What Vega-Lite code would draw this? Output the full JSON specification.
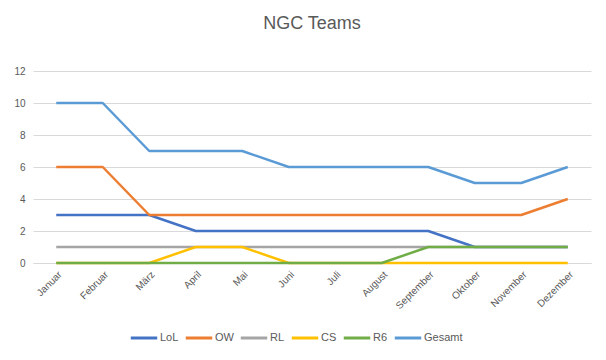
{
  "$schema": "https://vega.github.io/schema/vega-lite/v6.json",
  "width": 558,
  "height": 192,
  "autosize": {"type": "none"},
  "padding": {"left": 33, "top": 71, "right": 15, "bottom": 97},
  "background": "white",
  "title": {"text": "NGC Teams", "fontSize": 18, "font": "Liberation Sans", "fontWeight": "normal", "color": "#595959", "offset": 33, "anchor": "middle"},
  "config": {
    "view": {"stroke": null},
    "font": "Liberation Sans",
    "axis": {"labelColor": "#595959", "labelFontSize": 10, "ticks": false, "gridColor": "#D9D9D9", "domainColor": "#D9D9D9", "title": null},
    "legend": {"labelColor": "#595959", "labelFontSize": 11}
  },
  "data": {"values": [
    {"Nr": 1, "Monat": "Januar", "Team": "LoL", "Wert": 3},
    {"Nr": 2, "Monat": "Februar", "Team": "LoL", "Wert": 3},
    {"Nr": 3, "Monat": "März", "Team": "LoL", "Wert": 3},
    {"Nr": 4, "Monat": "April", "Team": "LoL", "Wert": 2},
    {"Nr": 5, "Monat": "Mai", "Team": "LoL", "Wert": 2},
    {"Nr": 6, "Monat": "Juni", "Team": "LoL", "Wert": 2},
    {"Nr": 7, "Monat": "Juli", "Team": "LoL", "Wert": 2},
    {"Nr": 8, "Monat": "August", "Team": "LoL", "Wert": 2},
    {"Nr": 9, "Monat": "September", "Team": "LoL", "Wert": 2},
    {"Nr": 10, "Monat": "Oktober", "Team": "LoL", "Wert": 1},
    {"Nr": 11, "Monat": "November", "Team": "LoL", "Wert": 1},
    {"Nr": 12, "Monat": "Dezember", "Team": "LoL", "Wert": 1},
    {"Nr": 1, "Monat": "Januar", "Team": "OW", "Wert": 6},
    {"Nr": 2, "Monat": "Februar", "Team": "OW", "Wert": 6},
    {"Nr": 3, "Monat": "März", "Team": "OW", "Wert": 3},
    {"Nr": 4, "Monat": "April", "Team": "OW", "Wert": 3},
    {"Nr": 5, "Monat": "Mai", "Team": "OW", "Wert": 3},
    {"Nr": 6, "Monat": "Juni", "Team": "OW", "Wert": 3},
    {"Nr": 7, "Monat": "Juli", "Team": "OW", "Wert": 3},
    {"Nr": 8, "Monat": "August", "Team": "OW", "Wert": 3},
    {"Nr": 9, "Monat": "September", "Team": "OW", "Wert": 3},
    {"Nr": 10, "Monat": "Oktober", "Team": "OW", "Wert": 3},
    {"Nr": 11, "Monat": "November", "Team": "OW", "Wert": 3},
    {"Nr": 12, "Monat": "Dezember", "Team": "OW", "Wert": 4},
    {"Nr": 1, "Monat": "Januar", "Team": "RL", "Wert": 1},
    {"Nr": 2, "Monat": "Februar", "Team": "RL", "Wert": 1},
    {"Nr": 3, "Monat": "März", "Team": "RL", "Wert": 1},
    {"Nr": 4, "Monat": "April", "Team": "RL", "Wert": 1},
    {"Nr": 5, "Monat": "Mai", "Team": "RL", "Wert": 1},
    {"Nr": 6, "Monat": "Juni", "Team": "RL", "Wert": 1},
    {"Nr": 7, "Monat": "Juli", "Team": "RL", "Wert": 1},
    {"Nr": 8, "Monat": "August", "Team": "RL", "Wert": 1},
    {"Nr": 9, "Monat": "September", "Team": "RL", "Wert": 1},
    {"Nr": 10, "Monat": "Oktober", "Team": "RL", "Wert": 1},
    {"Nr": 11, "Monat": "November", "Team": "RL", "Wert": 1},
    {"Nr": 12, "Monat": "Dezember", "Team": "RL", "Wert": 1},
    {"Nr": 1, "Monat": "Januar", "Team": "CS", "Wert": 0},
    {"Nr": 2, "Monat": "Februar", "Team": "CS", "Wert": 0},
    {"Nr": 3, "Monat": "März", "Team": "CS", "Wert": 0},
    {"Nr": 4, "Monat": "April", "Team": "CS", "Wert": 1},
    {"Nr": 5, "Monat": "Mai", "Team": "CS", "Wert": 1},
    {"Nr": 6, "Monat": "Juni", "Team": "CS", "Wert": 0},
    {"Nr": 7, "Monat": "Juli", "Team": "CS", "Wert": 0},
    {"Nr": 8, "Monat": "August", "Team": "CS", "Wert": 0},
    {"Nr": 9, "Monat": "September", "Team": "CS", "Wert": 0},
    {"Nr": 10, "Monat": "Oktober", "Team": "CS", "Wert": 0},
    {"Nr": 11, "Monat": "November", "Team": "CS", "Wert": 0},
    {"Nr": 12, "Monat": "Dezember", "Team": "CS", "Wert": 0},
    {"Nr": 1, "Monat": "Januar", "Team": "R6", "Wert": 0},
    {"Nr": 2, "Monat": "Februar", "Team": "R6", "Wert": 0},
    {"Nr": 3, "Monat": "März", "Team": "R6", "Wert": 0},
    {"Nr": 4, "Monat": "April", "Team": "R6", "Wert": 0},
    {"Nr": 5, "Monat": "Mai", "Team": "R6", "Wert": 0},
    {"Nr": 6, "Monat": "Juni", "Team": "R6", "Wert": 0},
    {"Nr": 7, "Monat": "Juli", "Team": "R6", "Wert": 0},
    {"Nr": 8, "Monat": "August", "Team": "R6", "Wert": 0},
    {"Nr": 9, "Monat": "September", "Team": "R6", "Wert": 1},
    {"Nr": 10, "Monat": "Oktober", "Team": "R6", "Wert": 1},
    {"Nr": 11, "Monat": "November", "Team": "R6", "Wert": 1},
    {"Nr": 12, "Monat": "Dezember", "Team": "R6", "Wert": 1},
    {"Nr": 1, "Monat": "Januar", "Team": "Gesamt", "Wert": 10},
    {"Nr": 2, "Monat": "Februar", "Team": "Gesamt", "Wert": 10},
    {"Nr": 3, "Monat": "März", "Team": "Gesamt", "Wert": 7},
    {"Nr": 4, "Monat": "April", "Team": "Gesamt", "Wert": 7},
    {"Nr": 5, "Monat": "Mai", "Team": "Gesamt", "Wert": 7},
    {"Nr": 6, "Monat": "Juni", "Team": "Gesamt", "Wert": 6},
    {"Nr": 7, "Monat": "Juli", "Team": "Gesamt", "Wert": 6},
    {"Nr": 8, "Monat": "August", "Team": "Gesamt", "Wert": 6},
    {"Nr": 9, "Monat": "September", "Team": "Gesamt", "Wert": 6},
    {"Nr": 10, "Monat": "Oktober", "Team": "Gesamt", "Wert": 5},
    {"Nr": 11, "Monat": "November", "Team": "Gesamt", "Wert": 5},
    {"Nr": 12, "Monat": "Dezember", "Team": "Gesamt", "Wert": 6}
  ]},
  "mark": {"type": "line", "strokeWidth": 2.5, "strokeJoin": "round"},
  "encoding": {
    "x": {"field": "Monat", "type": "ordinal",
      "sort": {"field": "Nr"},
      "scale": {"type": "point", "padding": 0.5},
      "axis": {"labelAngle": -45, "labelPadding": 6, "grid": false, "domain": true, "labelFontSize": 10}},
    "y": {"field": "Wert", "type": "quantitative",
      "scale": {"domain": [0, 12]},
      "axis": {"values": [0, 2, 4, 6, 8, 10, 12], "domain": false, "grid": true, "labelPadding": 8}},
    "color": {"field": "Team", "type": "nominal",
      "scale": {"domain": ["LoL", "OW", "RL", "CS", "R6", "Gesamt"], "range": ["#4472C4", "#ED7D31", "#A5A5A5", "#FFC000", "#70AD47", "#5B9BD5"]},
      "legend": {"orient": "none", "legendX": 96, "legendY": 252, "direction": "horizontal", "title": null, "symbolType": "stroke", "symbolSize": 700, "symbolStrokeWidth": 3, "columnPadding": 0, "labelOffset": 1}},
    "order": {"field": "Nr", "type": "quantitative"}
  }
}
